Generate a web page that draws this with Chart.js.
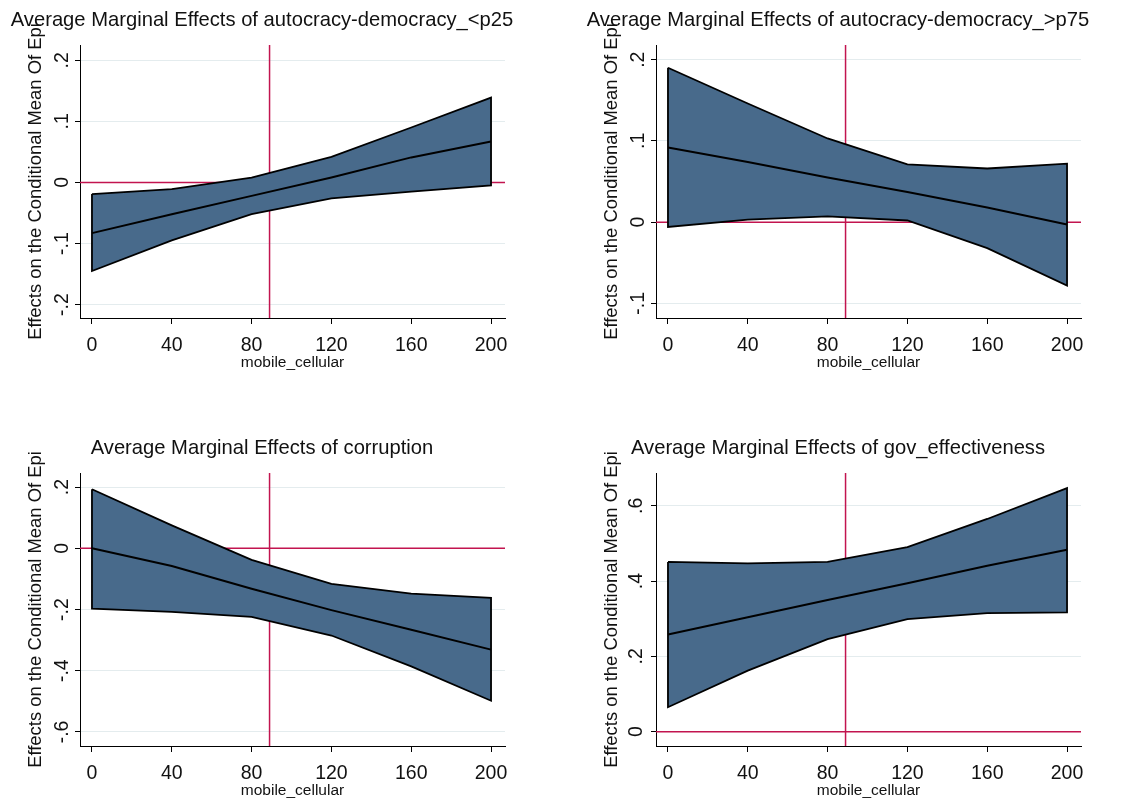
<!DOCTYPE html>
<html>
<head>
<meta charset="utf-8">
<script src="https://cdn.jsdelivr.net/npm/chart.js@4"></script>
<style>
  html, body { margin: 0; padding: 0; background: #fff; overflow: hidden; }
  .panel { position: absolute; width: 524px; height: 376px; }
</style>
</head>
<body>
<div class="panel" style="left:0px; top:0px;"><canvas id="p1"></canvas></div>
<div class="panel" style="left:576px; top:0px;"><canvas id="p2"></canvas></div>
<div class="panel" style="left:0px; top:428px;"><canvas id="p3"></canvas></div>
<div class="panel" style="left:576px; top:428px;"><canvas id="p4"></canvas></div>
<script>
// x values (mobile_cellular) and x axis ticks
const xVals = [0, 40, 80, 120, 160, 200];
const xTicks = [0, 40, 80, 120, 160, 200];
const xLine = 89; // red reference line on x

// autocracy-democracy_<p25
const upper1 = [-0.019, -0.011, 0.008, 0.042, 0.090, 0.139];
const mean1  = [-0.083, -0.052, -0.022, 0.008, 0.041, 0.067];
const lower1 = [-0.145, -0.095, -0.052, -0.026, -0.015, -0.005];
const yTicks1 = [-0.2, -0.1, 0, 0.1, 0.2];

// autocracy-democracy_>p75
const upper2 = [0.190, 0.146, 0.103, 0.071, 0.066, 0.072];
const mean2  = [0.092, 0.074, 0.055, 0.037, 0.018, -0.003];
const lower2 = [-0.006, 0.003, 0.007, 0.002, -0.032, -0.078];
const yTicks2 = [-0.1, 0, 0.1, 0.2];

// corruption
const upper3 = [0.193, 0.075, -0.038, -0.116, -0.148, -0.162];
const mean3  = [0.000, -0.058, -0.132, -0.202, -0.266, -0.331];
const lower3 = [-0.197, -0.208, -0.224, -0.285, -0.386, -0.498];
const yTicks3 = [-0.6, -0.4, -0.2, 0, 0.2];

// gov_effectiveness
const upper4 = [0.451, 0.447, 0.451, 0.490, 0.565, 0.647];
const mean4  = [0.258, 0.304, 0.350, 0.394, 0.441, 0.483];
const lower4 = [0.065, 0.162, 0.246, 0.299, 0.315, 0.317];
const yTicks4 = [0, 0.2, 0.4, 0.6];

const FONT = "'Liberation Sans', Arial, Helvetica, sans-serif";
const BAND = '#486a8b';
const RED = '#c2144f';

function stataLabel(v) {
    v = Math.round(v * 10) / 10;
    if (v === 0) return '0';
    return (v < 0 ? '-' : '') + String(Math.abs(v)).replace(/^0/, '');
}

function makePanel(id, title, upper, mean, lower, yMin, yMax, yTicks, tickPad) {
    // band outline: upper left->right, lower right->left, closed
    var band = xVals.map((x, i) => ({x: x, y: upper[i]}));
    for (var i = xVals.length - 1; i >= 0; i--) band.push({x: xVals[i], y: lower[i]});
    band.push({x: xVals[0], y: upper[0]});

    var ctx = document.getElementById(id).getContext('2d');
    new Chart(ctx, {
        type: 'scatter',
        data: {
            datasets: [
                {
                    data: xVals.map((x, i) => ({x: x, y: mean[i]})),
                    showLine: true, borderColor: '#000', borderWidth: 2,
                    pointRadius: 0, tension: 0, order: 1
                },
                {
                    data: band,
                    showLine: true, borderColor: '#000', borderWidth: 1.8,
                    backgroundColor: BAND, fill: 'shape',
                    pointRadius: 0, tension: 0, order: 2
                },
                {
                    data: [{x: -6, y: 0}, {x: 207, y: 0}],
                    showLine: true, borderColor: RED, borderWidth: 1.5,
                    pointRadius: 0, order: 3
                },
                {
                    data: [{x: xLine, y: yMin}, {x: xLine, y: yMax}],
                    showLine: true, borderColor: RED, borderWidth: 1.5,
                    pointRadius: 0, order: 3
                }
            ]
        },
        options: {
            responsive: true,
            maintainAspectRatio: false,
            animation: false,
            layout: { padding: 0 },
            plugins: {
                legend: { display: false },
                tooltip: { enabled: false },
                title: {
                    display: true,
                    text: title,
                    color: '#111',
                    font: { family: FONT, size: 20.2, weight: 'normal' },
                    padding: { top: 8.7, bottom: 12.1 }
                }
            },
            scales: {
                x: {
                    type: 'linear',
                    min: -6, max: 207,
                    afterBuildTicks: function (s) { s.ticks = xTicks.map(v => ({value: v})); },
                    afterFit: function (s) { s.height = 58; },
                    grid: { drawOnChartArea: false, tickLength: 6, tickColor: '#000' },
                    border: { color: '#000', width: 1 },
                    ticks: {
                        color: '#111', padding: 10, maxRotation: 0,
                        font: { family: FONT, size: 19.5 }
                    },
                    title: {
                        display: true, text: 'mobile_cellular', color: '#111',
                        font: { family: FONT, size: 15.5 },
                        padding: { top: 0, bottom: 4 }
                    }
                },
                y: {
                    type: 'linear',
                    min: yMin, max: yMax,
                    afterBuildTicks: function (s) { s.ticks = yTicks.map(v => ({value: v})); },
                    afterFit: function (s) { s.width = 80; },
                    grid: { color: '#e4ecee', lineWidth: 1, tickLength: 5, tickColor: '#000' },
                    border: { color: '#000', width: 1 },
                    ticks: {
                        color: '#111', padding: tickPad,
                        minRotation: 90, maxRotation: 90, crossAlign: 'center',
                        font: { family: FONT, size: 19.5 },
                        callback: function (v) { return stataLabel(v); }
                    },
                    title: {
                        display: true, text: 'Effects on the Conditional Mean Of Epi', color: '#111',
                        font: { family: FONT, size: 18.4 },
                        padding: { top: 25, bottom: 0 }
                    }
                },
                // empty spacer on the right so the plot ends short of the title box
                yRight: {
                    type: 'linear', position: 'right', min: 0, max: 1,
                    afterFit: function (s) { s.width = 19; },
                    grid: { display: false },
                    border: { display: false },
                    ticks: { display: false }
                }
            }
        }
    });
}

makePanel('p1', 'Average Marginal Effects of autocracy-democracy_<p25',
    upper1, mean1, lower1, -0.222, 0.225, yTicks1, 1.4);
makePanel('p2', 'Average Marginal Effects of autocracy-democracy_>p75',
    upper2, mean2, lower2, -0.118, 0.218, yTicks2, 1.4);
makePanel('p3', 'Average Marginal Effects of corruption',
    upper3, mean3, lower3, -0.646, 0.246, yTicks3, 1.4);
makePanel('p4', 'Average Marginal Effects of gov_effectiveness',
    upper4, mean4, lower4, -0.038, 0.687, yTicks4, 6.7);
</script>
</body>
</html>
